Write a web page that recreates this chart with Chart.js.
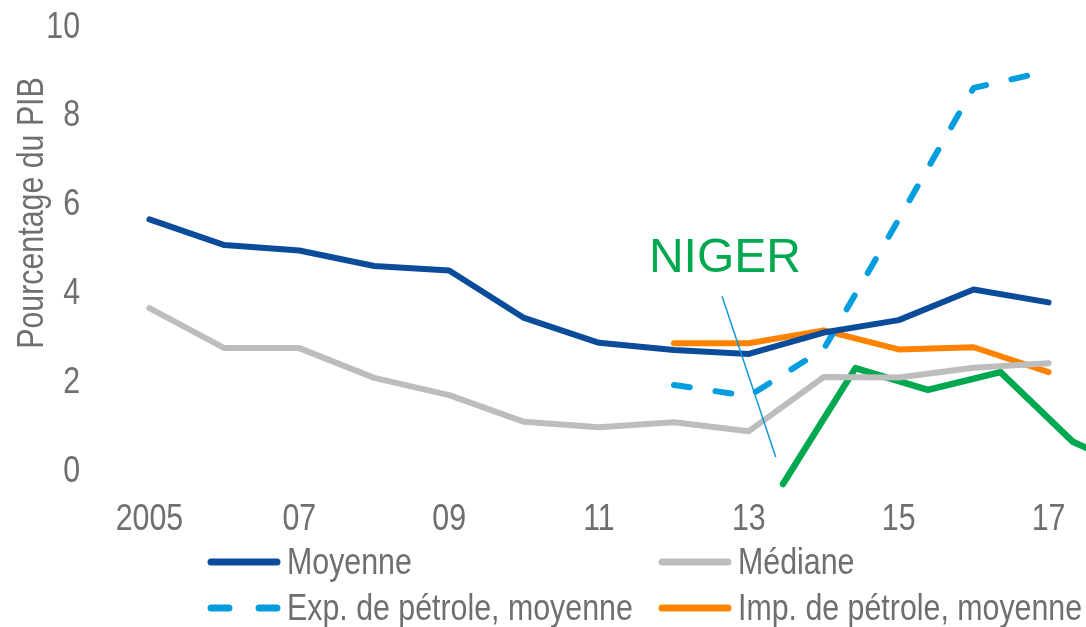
<!DOCTYPE html>
<html>
<head>
<meta charset="utf-8">
<title>Pourcentage du PIB</title>
<script src="https://cdn.jsdelivr.net/npm/chart.js@4.4.1/dist/chart.umd.min.js"></script>
<style>
  html, body { margin: 0; padding: 0; background: #ffffff; }
  #wrap { position: relative; width: 1086px; height: 627px; }
</style>
</head>
<body>
<div id="wrap"><canvas id="chart"></canvas></div>
<script>
// values
const years = ['2005', '06', '07', '08', '09', '10', '11', '12', '13', '14', '15', '16', '17'];
const moyenne = [5.6, 5.02, 4.9, 4.55, 4.45, 3.38, 2.82, 2.66, 2.57, 3.05, 3.33, 4.02, 3.73];
const mediane = [3.6, 2.7, 2.7, 2.03, 1.64, 1.04, 0.92, 1.03, 0.83, 2.05, 2.04, 2.26, 2.36];
const expPetrole = [null, null, null, null, null, null, null, 1.87, 1.62, 2.68, 5.6, 8.56, 8.94];
const impPetrole = [null, null, null, null, null, null, null, 2.81, 2.81, 3.1, 2.67, 2.72, 2.16];
const nigerYears = [2013, 2014, 2015, 2016, 2017, 2018];
const niger = [-0.36, 2.25, 1.76, 2.16, 0.59, -0.15];
const yTicks = [0, 2, 4, 6, 8, 10];

const GREY_TEXT = '#6f6f6f';
const GREEN = '#00a84f';
// the source uses a condensed face; Liberation Sans squeezed horizontally stands in for it
const TEXT_FONT = "37px 'Liberation Sans', Arial, sans-serif";
const SQUEEZE = 0.82;

// Niger callout, in the Niger axis' data space
const nigerLabel = { x: 2012.2, y: 4.41 };
const nigerPointer = [{ x: 2012.16, y: 3.87 }, { x: 2012.9, y: 0.25 }];

function narrowText(ctx, text, x, y, align, angle) {
    ctx.save();
    ctx.translate(x, y);
    if (angle) ctx.rotate(angle);
    ctx.scale(SQUEEZE, 1);
    ctx.font = TEXT_FONT;
    ctx.fillStyle = GREY_TEXT;
    ctx.textAlign = align;
    ctx.textBaseline = 'alphabetic';
    ctx.fillText(text, 0, 0);
    ctx.restore();
}

// tick labels, title, callout and 2x2 legend
const extras = {
    id: 'extras',
    afterDatasetsDraw(chart) {
        const ctx = chart.ctx;
        const x2 = chart.scales.x2;
        const y = chart.scales.y;
        ctx.save();
        ctx.strokeStyle = '#1197d8';
        ctx.lineWidth = 1.5;
        ctx.beginPath();
        ctx.moveTo(x2.getPixelForValue(nigerPointer[0].x), y.getPixelForValue(nigerPointer[0].y));
        ctx.lineTo(x2.getPixelForValue(nigerPointer[1].x), y.getPixelForValue(nigerPointer[1].y));
        ctx.stroke();
        ctx.fillStyle = GREEN;
        ctx.font = "48px 'Liberation Sans', Arial, sans-serif";
        ctx.textAlign = 'center';
        ctx.textBaseline = 'alphabetic';
        ctx.fillText('NIGER', x2.getPixelForValue(nigerLabel.x), y.getPixelForValue(nigerLabel.y));
        ctx.restore();
    },
    afterDraw(chart) {
        const ctx = chart.ctx;
        const area = chart.chartArea;
        const xs = chart.scales.x;
        const ys = chart.scales.y;

        // axis labels
        ys.ticks.forEach(t => {
            narrowText(ctx, String(t.value), area.left - 32, ys.getPixelForValue(t.value) + 13.5, 'right');
        });
        xs.ticks.forEach((t, i) => {
            if (i % 2 !== 0) return;
            narrowText(ctx, xs.getLabelForValue(t.value), xs.getPixelForTick(i), area.bottom + 62, 'center');
        });

        // y axis title
        narrowText(ctx, 'Pourcentage du PIB', area.left - 69, (area.top + area.bottom) / 2 - 33, 'center', -Math.PI / 2);

        // legend, two columns
        const cols = [area.left + 99, area.left + 550];
        const rows = [area.bottom + 94, area.bottom + 140];
        ctx.save();
        chart.data.datasets.forEach((ds, i) => {
            if (i > 3) return;
            const sx = cols[i % 2];
            const sy = rows[Math.floor(i / 2)];
            ctx.strokeStyle = ds.borderColor;
            ctx.lineWidth = 7;
            ctx.lineCap = 'round';
            ctx.setLineDash(ds.borderDash ? [18, 30] : []);
            ctx.beginPath();
            ctx.moveTo(sx, sy);
            ctx.lineTo(sx + 66, sy);
            ctx.stroke();
            ctx.setLineDash([]);
            narrowText(ctx, ds.label, sx + 76, sy + 11.5, 'left');
        });
        ctx.restore();
    }
};

const lineStyle = {
    pointRadius: 0,
    pointHoverRadius: 0,
    borderWidth: 6,
    borderCapStyle: 'round',
    borderJoinStyle: 'round',
    tension: 0,
    spanGaps: false
};

new Chart(document.getElementById('chart'), {
    type: 'line',
    data: {
        labels: years,
        datasets: [
            { ...lineStyle, label: 'Moyenne', data: moyenne, borderColor: '#0b4c9a' },
            { ...lineStyle, label: 'Médiane', data: mediane, borderColor: '#bdbdbd' },
            { ...lineStyle, label: 'Exp. de pétrole, moyenne', data: expPetrole, borderColor: '#049ddf', borderDash: [16, 26] },
            { ...lineStyle, label: 'Imp. de pétrole, moyenne', data: impPetrole, borderColor: '#ff8300' },
            {
                ...lineStyle,
                label: 'Niger',
                data: nigerYears.map((yr, i) => ({ x: yr, y: niger[i] })),
                borderColor: GREEN,
                borderWidth: 6.5,
                xAxisID: 'x2',
                clip: false
            }
        ]
    },
    options: {
        responsive: true,
        maintainAspectRatio: false,
        animation: false,
        layout: { padding: { top: 24, right: 0, bottom: 0, left: 0 } },
        plugins: {
            legend: { display: false },
            tooltip: { enabled: false }
        },
        scales: {
            x: {
                type: 'category',
                offset: true,
                grid: { display: false },
                border: { display: false },
                ticks: { display: false, autoSkip: false },
                afterFit: s => { s.height = 159; }
            },
            x2: {
                type: 'linear',
                display: false,
                min: 2003.745,
                max: 2017.18
            },
            y: {
                min: 0,
                max: 10,
                grid: { display: false },
                border: { display: false },
                ticks: { display: false },
                afterBuildTicks: s => { s.ticks = yTicks.map(v => ({ value: v })); },
                afterFit: s => { s.width = 112; }
            }
        }
    },
    plugins: [extras]
});
</script>
</body>
</html>
